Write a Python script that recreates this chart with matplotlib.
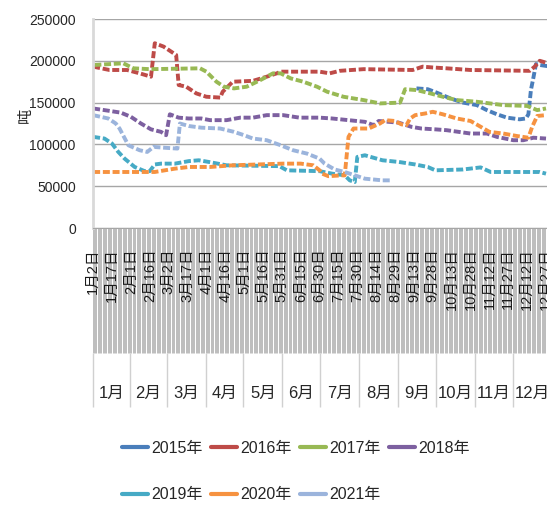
import numpy as np
import pandas as pd
import matplotlib
matplotlib.use("Agg")
import matplotlib.pyplot as plt
import matplotlib.transforms as mtransforms
from matplotlib.lines import Line2D

plt.rcParams['font.family'] = ['Liberation Sans', 'Noto Sans CJK SC', 'DejaVu Sans']

# one category per day, Jan 2 .. Dec 31 (leap-year calendar, the axis has 3月2日 after 2月16日)
days = pd.date_range("2020-01-02", "2020-12-31", freq="D")
month_names = ["%d月" % m for m in range(1, 13)]

years = ["2015年", "2016年", "2017年", "2018年", "2019年", "2020年", "2021年"]
colors = ["#4A7EBB", "#BE4B48", "#98B954", "#7D60A0", "#46AAC5", "#F69240", "#9BB4DC"]

dates_2015 = ["09-15", "09-24", "10-01", "10-12", "10-22", "11-02", "11-10", "11-18", "11-26",
              "12-06", "12-11", "12-13", "12-15", "12-17", "12-19", "12-22", "12-31"]
values_2015 = [167000, 166000, 162000, 155000, 150000, 147000, 141000, 136000, 132000,
               130000, 131000, 136000, 165000, 180000, 196000, 195000, 193000]

dates_2016 = ["01-02", "01-15", "01-29", "02-08", "02-17", "02-20", "02-27", "03-06", "03-08",
              "03-10", "03-16", "03-24", "04-01", "04-12", "04-14", "04-22", "05-08", "05-19",
              "05-27", "05-30", "06-30", "07-08", "07-16", "08-04", "09-12", "09-20", "09-28",
              "10-09", "10-28", "12-14", "12-18", "12-22", "12-31"]
values_2016 = [193000, 189000, 189000, 185000, 181000, 221000, 217000, 209000, 207000,
               171000, 169000, 161000, 157000, 156000, 163000, 175000, 176000, 181000,
               185000, 187000, 187000, 185000, 188000, 190000, 189000, 193000, 192000,
               191000, 189000, 188000, 193000, 200000, 196000]

dates_2017 = ["01-03", "01-26", "02-03", "02-16", "03-27", "04-01", "04-09", "04-15", "04-23",
              "05-03", "05-14", "05-24", "05-30", "06-07", "06-17", "06-28", "07-06", "07-19",
              "08-04", "08-17", "09-02", "09-06", "09-15", "09-26", "10-06", "10-17", "11-02",
              "11-23", "12-12", "12-20", "12-27"]
values_2017 = [195000, 197000, 191000, 190000, 191000, 187000, 175000, 169000, 167000,
               169000, 177000, 185000, 185000, 179000, 175000, 169000, 163000, 157000,
               153000, 149000, 150000, 166000, 165000, 161000, 157000, 153000, 151000,
               147000, 146000, 141000, 143000]

dates_2018 = ["01-02", "01-11", "01-24", "02-01", "02-09", "02-17", "02-25", "02-29", "03-03",
              "03-10", "03-18", "03-28", "04-04", "04-17", "04-28", "05-08", "05-19", "06-01",
              "06-14", "06-30", "07-10", "07-23", "08-05", "08-12", "08-16", "09-01", "09-11",
              "09-19", "09-30", "10-09", "10-28", "11-10", "11-18", "12-01", "12-09", "12-17",
              "12-27"]
values_2018 = [143000, 141000, 138000, 133000, 125000, 118000, 115000, 111000, 136000,
               132000, 131000, 131000, 129000, 129000, 132000, 132000, 135000, 135000,
               132000, 132000, 131000, 129000, 127000, 123000, 128000, 126000, 121000,
               119000, 118000, 117000, 113000, 113000, 109000, 105000, 105000, 108000,
               107000]

dates_2019 = ["01-02", "01-11", "01-17", "01-22", "01-27", "02-04", "02-12", "02-16", "02-20",
              "02-25", "03-07", "03-18", "03-26", "04-03", "04-17", "05-29", "06-04", "06-30",
              "07-10", "07-20", "07-24", "07-28", "07-30", "08-05", "08-19", "09-01", "09-14",
              "09-24", "09-30", "10-22", "11-05", "11-13", "12-22", "12-27"]
values_2019 = [109000, 107000, 101000, 91000, 83000, 73000, 68000, 68000, 76000,
               77000, 77000, 80000, 81000, 79000, 75000, 74000, 69000, 68000,
               65000, 63000, 57000, 55000, 85000, 87000, 81000, 79000, 76000,
               73000, 69000, 70000, 72500, 67000, 67000, 65000]

dates_2020 = ["01-02", "02-20", "02-28", "03-07", "03-18", "04-04", "04-22", "06-01", "06-15",
              "06-25", "06-30", "07-02", "07-07", "07-18", "07-20", "07-23", "07-27", "08-08",
              "08-17", "08-21", "08-29", "09-03", "09-07", "09-10", "09-14", "09-22", "09-28",
              "10-06", "10-17", "10-28", "11-04", "11-12", "11-23", "12-04", "12-13", "12-16",
              "12-20", "12-27"]
values_2020 = [67000, 67000, 69000, 71000, 73000, 73000, 75000, 77000, 77000,
               75000, 69000, 65000, 62000, 63000, 63000, 109000, 119000, 119000,
               125000, 129000, 128000, 124000, 123000, 131000, 135000, 137000, 139000,
               136000, 131000, 128000, 122000, 115000, 113000, 110000, 108000, 121000,
               134000, 135000]

dates_2021 = ["01-02", "01-14", "01-20", "01-23", "01-30", "02-08", "02-14", "02-19", "02-28",
              "03-09", "03-11", "03-18", "03-28", "04-12", "04-23", "05-01", "05-08", "05-19",
              "05-30", "06-09", "06-20", "06-30", "07-04", "07-12", "07-20", "07-28", "08-05",
              "08-19", "08-26"]
values_2021 = [135000, 131000, 125000, 119000, 99000, 93000, 91000, 97000, 96000,
               95000, 125000, 122000, 120000, 119000, 115000, 111000, 107000, 105000,
               99000, 93000, 89000, 83000, 77000, 70000, 67000, 63000, 59000,
               57000, 57000]

series = [(dates_2015, values_2015), (dates_2016, values_2016), (dates_2017, values_2017),
          (dates_2018, values_2018), (dates_2019, values_2019), (dates_2020, values_2020),
          (dates_2021, values_2021)]


def to_index(date_list):
    """category position of each MM-DD date"""
    return [(pd.Timestamp("2020-" + s) - days[0]).days for s in date_list]


W, H = 547, 507
fig = plt.figure(figsize=(W / 100, H / 100), dpi=100)
# plot area in pixels: left 92.5, top 19, bottom 228, one category = 1.258 px
ax = fig.add_axes([92.5 / W, 1 - 228 / H, 365 * 1.258 / W, 209 / H])

for (d, v), c in zip(series, colors):
    ax.plot(to_index(d), v, color=c, lw=2.8, linestyle=(0, (1.8, 0.7)))

ax.set_xlim(-0.5, len(days) - 0.5)
ax.set_ylim(0, 250000)
ax.set_yticks(np.arange(0, 250001, 50000))
ax.set_xticks([])
ax.yaxis.grid(True, color="#A6A6A6", lw=1)
ax.set_axisbelow(True)
for s in ["top", "right"]:
    ax.spines[s].set_visible(False)
ax.spines["left"].set_color("#D9D9D9")
ax.spines["left"].set_linewidth(2)
ax.spines["bottom"].set_color("#A6A6A6")
ax.tick_params(axis="y", length=0, pad=12, labelsize=10, labelcolor="#262626")

ax.set_ylabel("吨", fontsize=11, color="#262626")
ax.yaxis.set_label_coords(-0.13, 0.54)

# multi level category axis
trans = mtransforms.blended_transform_factory(ax.transData, ax.transAxes)
px = 1 / 209.0
band_bottom = -(353 - 228) * px
bounds = np.arange(len(days) + 1) - 0.5
ax.vlines(bounds, band_bottom, 0, transform=trans, colors="#A3A3A3", lw=0.5, clip_on=False)

for i in range(0, len(days), 15):
    lab = "%d月%d日" % (days[i].month, days[i].day)
    ax.text(i, -(248 - 228) * px, lab, rotation=90, ha="center", va="top",
            transform=trans, fontsize=10.5, color="#1a1a1a", clip_on=False)

month_start = [i for i in range(len(days)) if days[i].day == 1]
seps = [-0.5] + [m - 0.5 for m in month_start] + [len(days) - 0.5]
ax.vlines(seps, -(407 - 228) * px, band_bottom, transform=trans, colors="#D0D0D0", lw=1,
          clip_on=False)
for k in range(12):
    ax.text((seps[k] + seps[k + 1]) / 2, -(393 - 228) * px, month_names[k], ha="center",
            va="center", transform=trans, fontsize=12, color="#262626", clip_on=False)

# legend, row by row like the original (matplotlib fills columns first)
handles = [Line2D([], [], color=c, lw=3, solid_capstyle="round") for c in colors]
order = [0, 4, 1, 5, 2, 6, 3]
fig.legend([handles[i] for i in order], [years[i] for i in order], ncol=4,
           loc="upper left", bbox_to_anchor=(122 / W, 1 - 441 / H), frameon=False,
           fontsize=11.5, handlelength=1.65, handletextpad=0.2, columnspacing=0.5,
           labelspacing=1.95, borderpad=0, borderaxespad=0, labelcolor="#262626")

fig.savefig("out.png", dpi=100)
